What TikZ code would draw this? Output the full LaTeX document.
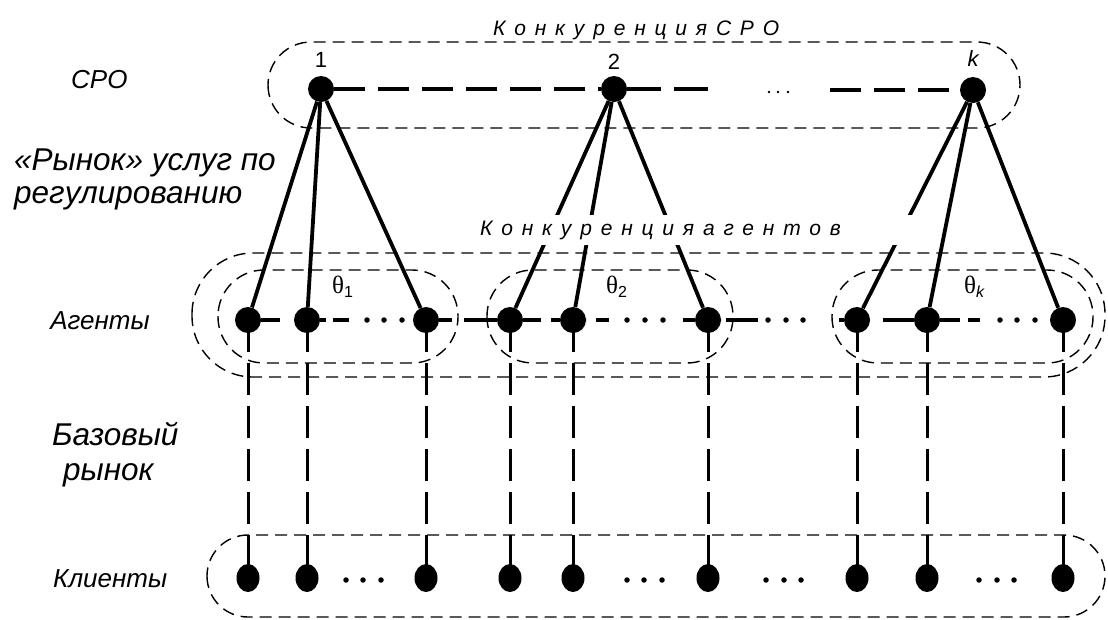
\documentclass[tikz,border=0pt]{standalone}
\usepackage{fontspec}
\setmainfont{Liberation Sans}
\newfontfamily\spacedfont[LetterSpace=42]{Liberation Sans}
\newfontfamily\greekfont{Liberation Serif}
\usetikzlibrary{backgrounds,shapes.geometric}
\newcommand\fsz[1]{\fontsize{#1}{#1}\selectfont}
\begin{document}
\begin{tikzpicture}[x=1pt,y=-1pt,
  sronode/.style={circle,fill=black,inner sep=0pt,minimum size=26pt},
  agentnode/.style={circle,fill=black,inner sep=0pt,minimum size=26pt},
  clientnode/.style={ellipse,fill=black,inner sep=0pt,minimum width=23pt,minimum height=28pt},
  conn/.style={line width=3.8pt},
  vline/.style={line width=3pt,dash pattern=on 32pt off 11pt},
  grp/.style={line width=1.4pt,dash pattern=on 12pt off 7pt},
  sdot/.style={circle,fill=black,inner sep=0pt,minimum size=5.5pt},
  tdot/.style={circle,fill=black,inner sep=0pt,minimum size=2.6pt},
  lbl/.style={inner sep=0pt}]
\useasboundingbox (0,0) rectangle (1108,619);

% SRO nodes
\node[sronode] (s1) at (321,89) {};
\node[sronode] (s2) at (614,89) {};
\node[sronode] (sk) at (973,90) {};
\coordinate (gl) at (709,89);
\coordinate (gr) at (830,90);

% agents and clients
\foreach \n/\x in {a1/248,a2/307,a3/426,b1/510,b2/573,b3/708,c1/857,c2/927,c3/1063}{
  \node[agentnode] (\n) at (\x,320) {};
  \node[clientnode] (k\n) at (\x,578) {};
}

% labels of SRO
\node[lbl,anchor=base] (l1) at (321,67) {\fsz{22}1};
\node[lbl,anchor=base] (l2) at (614,69) {\fsz{22}2};
\node[lbl,anchor=base] (lk) at (973,66) {\fsz{22}\itshape k};

% theta labels
\node[lbl,anchor=base west] (t1) at (332,293) {\fsz{25}\greekfont θ\raisebox{-4pt}{\fsz{16}\normalfont 1}};
\node[lbl,anchor=base west] (t2) at (606,293) {\fsz{25}\greekfont θ\raisebox{-4pt}{\fsz{16}\normalfont 2}};
\node[lbl,anchor=base west] (tk) at (964,293) {\fsz{25}\greekfont θ\raisebox{-4pt}{\fsz{16}\normalfont\itshape k}};

% competition texts
\node[lbl,anchor=base west] (tsro) at (493,35) {\fsz{21}\spacedfont\itshape КонкуренцияСРО};
\node[anchor=base west,fill=white,inner xsep=6pt,inner ysep=6pt,text width=430pt,align=left] (tag) at (474,235) {\fsz{21}\spacedfont\itshape Конкуренцияагентов};

% left labels
\node[lbl,anchor=base west] (lsro) at (71,88) {\fsz{26}\itshape СРО};
\node[lbl,anchor=base west] (lm1) at (14,170) {\fsz{31.5}\itshape «Рынок» услуг по};
\node[lbl,anchor=base west] (lm2) at (14,203) {\fsz{31.5}\itshape регулированию};
\node[lbl,anchor=base] (lag) at (100,329) {\fsz{26}\itshape Агенты};
\node[lbl,anchor=base west] (lb1) at (52,445) {\fsz{31.5}\itshape Базовый};
\node[lbl,anchor=base west] (lb2) at (63,480) {\fsz{31.5}\itshape рынок};
\node[lbl,anchor=base west] (lcl) at (53,587) {\fsz{26}\itshape Клиенты};

% dots
\foreach \x in {769,778,788} \node[tdot] at (\x,92) {};
\foreach \x in {367,384,402,627,645,663,768,786,803,1000,1017,1035} \node[sdot] at (\x,320) {};
\foreach \x in {346,363,381,627,644,662,766,784,801,979,997,1014} \node[sdot] at (\x,580) {};

\begin{scope}[on background layer]
  % group boxes
  \draw[grp,rounded corners=43pt] (268,42) rectangle (1020,128);
  \draw[grp,rounded corners=61pt] (192,253) rectangle (1105,377);
  \draw[grp,rounded corners=46pt] (218,270) rectangle (458,363);
  \draw[grp,rounded corners=46pt] (487,270) rectangle (733,363);
  \draw[grp,rounded corners=46pt] (832,270) rectangle (1093,363);
  \draw[grp,rounded corners=41pt] (207,535) rectangle (1105,617);

  % SRO row
  \draw[conn,dash pattern=on 31pt off 13pt] (s1) -- (s2);
  \draw[conn,dash pattern=on 34pt off 13pt] (s2) -- (gl);
  \draw[conn,dash pattern=on 31pt off 13pt] (gr) -- (sk);

  % SRO to agents
  \foreach \a in {a1,a2,a3} \draw[conn] (s1) -- (\a);
  \foreach \a in {b1,b2,b3} \draw[conn] (s2) -- (\a);
  \foreach \a in {c1,c2,c3} \draw[conn] (sk) -- (\a);

  % agents row
  \draw[conn,dash pattern=on 19pt off 40pt] (a1) -- (a2);
  \draw[conn,dash pattern=on 6pt off 7pt on 16pt off 200pt] (a2) -- (a3);
  \draw[conn,dash pattern=on 13pt off 12pt on 40pt off 20pt] (a3) -- (b1);
  \draw[conn,dash pattern=on 18pt off 10pt on 20pt off 20pt] (b1) -- (b2);
  \draw[conn,dash pattern=on 13pt off 74pt on 20pt off 10pt,dash phase=107pt] (b2) -- (b3);
  \draw[conn,dash pattern=on 32pt off 81pt on 7pt off 5pt,dash phase=120pt] (b3) -- (c1);
  \draw[conn,dash pattern=on 31pt off 13pt,dash phase=31pt] (c1) -- (c2);
  \draw[conn,dash pattern=on 20pt off 8pt on 12pt off 200pt] (c2) -- (c3);

  % base market
  \foreach \n in {a1,a2,a3,b1,b2,b3,c1,c2,c3} \draw[vline] (\n.center) -- (k\n.center);
\end{scope}
\end{tikzpicture}
\end{document}
